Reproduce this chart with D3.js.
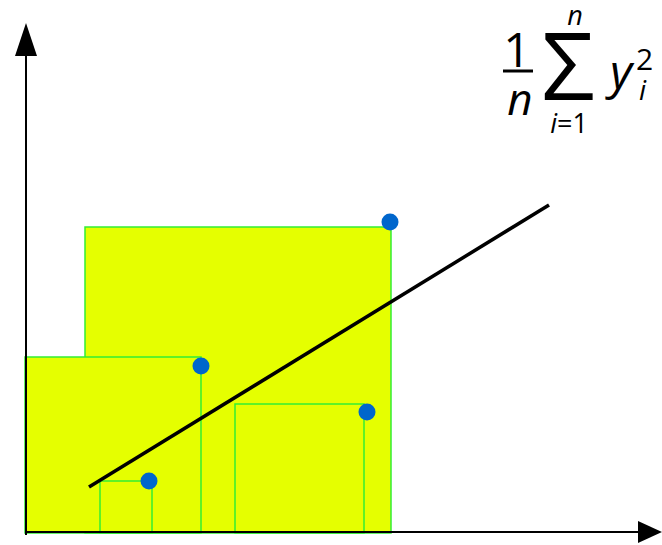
<!DOCTYPE html>
<html>
<head>
<meta charset="utf-8">
<script src="https://cdn.jsdelivr.net/npm/d3@7"></script>
<style>
  body { margin: 0; background: #fff; }
  svg { display: block; }
  .f { font-family: "Open Sans", sans-serif; fill: #000; }
</style>
</head>
<body>
<div id="chart"></div>
<script>
// data points (x, y) in plot units, origin at the axes corner
var pointX = [123, 175, 341, 364];
var pointY = [52, 167, 121, 311];

// squares of y_i : left edge and side length
var squareLeft = [59, -1, 209, 74];
var squareSide = [306, 176, 129, 52];

// fitted line end points
var lineX = [63, 523];
var lineY = [46, 328];

// axis extents
var axisXMax = 636, axisYMax = 510;

var width = 662, height = 545;

var svg = d3.select("#chart").append("svg")
    .attr("width", width).attr("height", height);

var x = d3.scaleLinear().domain([0, 636]).range([26, 662]);
var y = d3.scaleLinear().domain([0, 533]).range([533, 0]);

var squares = squareLeft.map(function(d, i) { return {left: d, side: squareSide[i]}; });

svg.selectAll("rect.sq").data(squares).enter().append("rect")
    .attr("class", "sq")
    .attr("x", function(d) { return x(d.left); })
    .attr("y", function(d) { return y(d.side); })
    .attr("width", function(d) { return x(d.left + d.side) - x(d.left); })
    .attr("height", function(d) { return y(0) - y(d.side); })
    .attr("fill", "#e5ff00")
    .attr("stroke", "#33ee33")
    .attr("stroke-width", 1.5);

// axes
svg.append("line")
    .attr("x1", x(0)).attr("y1", y(-2))
    .attr("x2", x(0)).attr("y2", y(axisYMax - 30))
    .attr("stroke", "#000").attr("stroke-width", 2);
svg.append("line")
    .attr("x1", x(-1)).attr("y1", y(1))
    .attr("x2", x(axisXMax - 24)).attr("y2", y(1))
    .attr("stroke", "#000").attr("stroke-width", 2);

// arrow heads
svg.append("path")
    .attr("d", "M" + x(0) + "," + y(axisYMax) +
        "L" + x(-11) + "," + y(axisYMax - 33) +
        "L" + x(11) + "," + y(axisYMax - 33) + "Z")
    .attr("fill", "#000");
svg.append("path")
    .attr("d", "M" + x(axisXMax) + "," + y(1) +
        "L" + x(axisXMax - 24) + "," + y(12) +
        "L" + x(axisXMax - 24) + "," + y(-10) + "Z")
    .attr("fill", "#000");

// regression line
svg.append("line")
    .attr("x1", x(lineX[0])).attr("y1", y(lineY[0]))
    .attr("x2", x(lineX[1])).attr("y2", y(lineY[1]))
    .attr("stroke", "#000").attr("stroke-width", 3.5);

// points
svg.selectAll("circle").data(pointX).enter().append("circle")
    .attr("cx", function(d) { return x(d); })
    .attr("cy", function(d, i) { return y(pointY[i]); })
    .attr("r", 8.5)
    .attr("fill", "#0066cc");

// formula  1/n sum_{i=1}^{n} y_i^2
var fm = svg.append("g");
fm.append("text").attr("class", "f").attr("x", 517).attr("y", 67)
    .attr("text-anchor", "middle").attr("font-size", 48).text("1");
fm.append("line").attr("x1", 503).attr("x2", 533).attr("y1", 71).attr("y2", 71)
    .attr("stroke", "#000").attr("stroke-width", 3);
fm.append("text").attr("class", "f").attr("x", 520).attr("y", 115)
    .attr("text-anchor", "middle").attr("font-size", 44).attr("font-style", "italic").text("n");
fm.append("text").attr("class", "f").attr("x", 568).attr("y", 100)
    .attr("text-anchor", "middle").attr("font-size", 94).text("Σ");
fm.append("text").attr("class", "f").attr("x", 575).attr("y", 25)
    .attr("text-anchor", "middle").attr("font-size", 27).attr("font-style", "italic").text("n");
var lim = fm.append("text").attr("class", "f").attr("x", 569).attr("y", 133)
    .attr("text-anchor", "middle").attr("font-size", 27);
lim.append("tspan").attr("font-style", "italic").text("i");
lim.append("tspan").text("=1");
fm.append("text").attr("class", "f").attr("x", 610).attr("y", 89)
    .attr("font-size", 48).attr("font-style", "italic").text("y");
fm.append("text").attr("class", "f").attr("x", 636).attr("y", 70)
    .attr("font-size", 30).text("2");
fm.append("text").attr("class", "f").attr("x", 639).attr("y", 100)
    .attr("font-size", 28).attr("font-style", "italic").text("i");
</script>
</body>
</html>
